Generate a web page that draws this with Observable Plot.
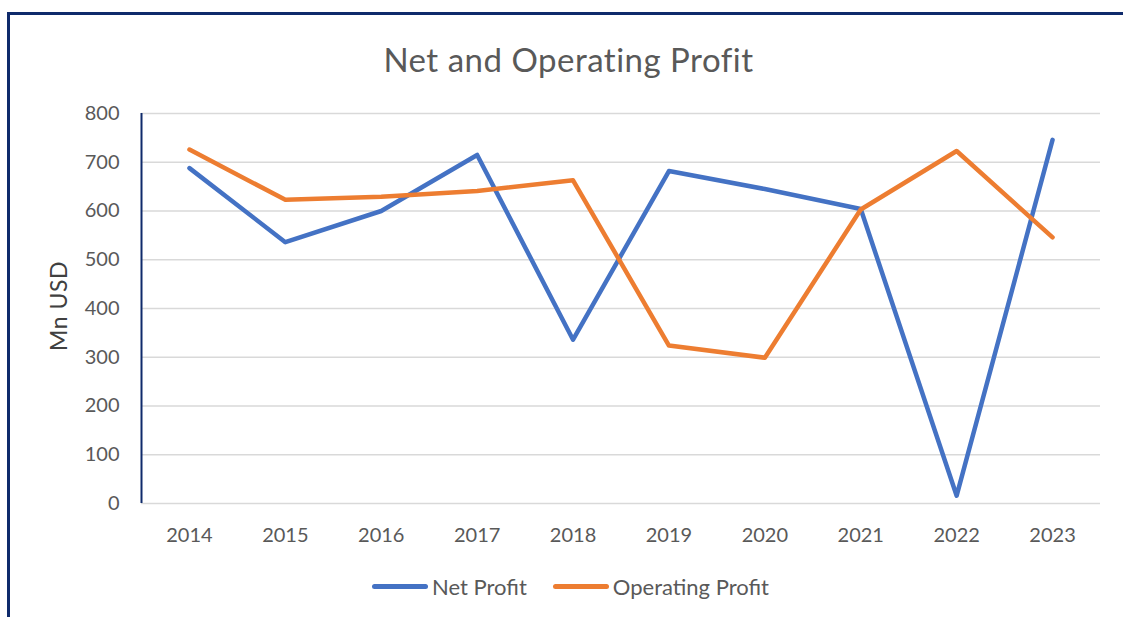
<!DOCTYPE html>
<html>
<head>
<meta charset="utf-8">
<script src="https://cdn.jsdelivr.net/npm/d3@7"></script>
<script src="https://cdn.jsdelivr.net/npm/@observablehq/plot@0.6"></script>
<style>
  html, body { margin: 0; padding: 0; background: #fff; }
  body { width: 1123px; height: 617px; position: relative; overflow: hidden; font-family: Lato, "Noto Sans", sans-serif; }
  #frame { position: absolute; left: 7px; top: 12px; width: 1200px; height: 700px; border-top: 3px solid #0f2a6b; border-left: 3px solid #0f2a6b; }
  #title { position: absolute; left: 7px; width: 1123px; top: 39px; text-align: center; font-size: 33px; letter-spacing: 0.5px; color: #595959; }
  #chart { position: absolute; left: 0; top: 90px; }
  #legend { position: absolute; left: 9px; width: 1123px; top: 567px; text-align: center; font-size: 22px; color: #595959; }
  .item { display: inline-flex; align-items: center; margin: 0 13px; }
  .sw { display: inline-block; width: 56px; height: 5px; border-radius: 3px; margin-right: 4px; }
  #ylab { position: absolute; left: 58px; top: 306px; transform: translate(-50%, -50%) rotate(-90deg); font-size: 23px; letter-spacing: 0.5px; color: #404040; white-space: nowrap; }
</style>
</head>
<body>
<div id="frame"></div>
<div id="title">Net and Operating Profit</div>
<div id="chart"></div>
<div id="ylab">Mn USD</div>
<div id="legend"></div>
<script>
const years = [2014, 2015, 2016, 2017, 2018, 2019, 2020, 2021, 2022, 2023];
const netProfit = [688, 536, 600, 715, 336, 682, 645, 604, 16, 746];
const operatingProfit = [726, 623, 629, 641, 663, 324, 299, 603, 723, 546];
const seriesNames = ["Net Profit", "Operating Profit"];
const seriesColors = ["#4472C4", "#ED7D31"];
const yTicks = [0, 100, 200, 300, 400, 500, 600, 700, 800];

const data = [];
years.forEach((y, i) => data.push({year: y, value: netProfit[i], series: seriesNames[0]}));
years.forEach((y, i) => data.push({year: y, value: operatingProfit[i], series: seriesNames[1]}));

const chart = Plot.plot({
  width: 1123,
  height: 470,
  marginLeft: 141,
  marginRight: 23,
  marginTop: 23,
  marginBottom: 57,
  style: {fontFamily: "Lato, 'Noto Sans', sans-serif", fontSize: "20px", color: "#595959", background: "transparent"},
  x: {domain: [years[0] - 0.5, years[years.length - 1] + 0.5], ticks: years, tickFormat: d => String(d), tickSize: 0, tickPadding: 24, label: null},
  y: {domain: [0, 800], ticks: yTicks, tickSize: 0, tickPadding: 22, label: null},
  color: {domain: seriesNames, range: seriesColors},
  marks: [
    Plot.ruleY(yTicks, {stroke: "#d9d9d9", strokeWidth: 1.5}),
    Plot.ruleX([years[0] - 0.5], {stroke: "#0f2a6b", strokeWidth: 2}),
    Plot.line(data, {x: "year", y: "value", stroke: "series", strokeWidth: 4.5, strokeLinecap: "round", strokeLinejoin: "round"}),
    Plot.axisX({ticks: years, tickFormat: d => String(d), tickSize: 0, tickPadding: 24, fill: "#595959"}),
    Plot.axisY({ticks: yTicks, tickSize: 0, tickPadding: 22, fill: "#595959"})
  ]
});
document.getElementById("chart").appendChild(chart);

const legend = document.getElementById("legend");
seriesNames.forEach((name, i) => {
  const it = document.createElement("span");
  it.className = "item";
  const sw = document.createElement("span");
  sw.className = "sw";
  sw.style.background = seriesColors[i];
  const tx = document.createElement("span");
  tx.textContent = name;
  it.appendChild(sw); it.appendChild(tx);
  legend.appendChild(it);
});
</script>
</body>
</html>
